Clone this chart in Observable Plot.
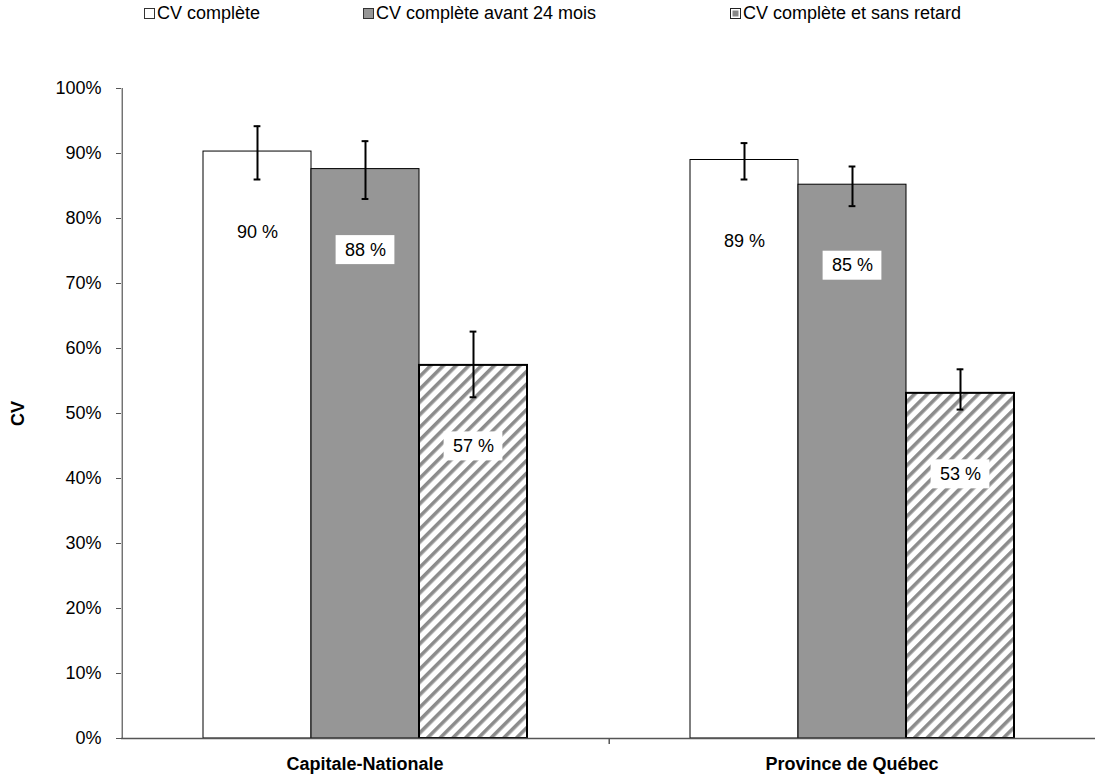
<!DOCTYPE html>
<html>
<head>
<meta charset="utf-8">
<script src="https://cdn.jsdelivr.net/npm/d3@7"></script>
<script src="https://cdn.jsdelivr.net/npm/@observablehq/plot@0.6"></script>
<style>
  html, body { margin: 0; padding: 0; background: white; }
  body { width: 1095px; height: 779px; overflow: hidden; font-family: "Liberation Sans", Arial, Helvetica, sans-serif; }
  #legend { position: relative; height: 30px; font-size: 18px; color: #000; }
  #legend .item { position: absolute; top: 3px; display: flex; align-items: center; white-space: nowrap; }
  #legend .sw { width: 9px; height: 9px; border: 1px solid #333; margin-right: 2px; box-sizing: content-box; }
  #chart svg { display: block; }
</style>
</head>
<body>
<div id="legend"></div>
<div id="chart"></div>
<script>
// ---- data ----
const categories = ["Capitale-Nationale", "Province de Québec"];
const series = ["CV complète", "CV complète avant 24 mois", "CV complète et sans retard"];
const capitaleValues = [0.903, 0.876, 0.574];
const capitaleLow    = [0.860, 0.830, 0.525];
const capitaleHigh   = [0.942, 0.919, 0.626];
const quebecValues   = [0.890, 0.852, 0.531];
const quebecLow      = [0.860, 0.819, 0.506];
const quebecHigh     = [0.916, 0.880, 0.568];
const yTicks = [0, 0.1, 0.2, 0.3, 0.4, 0.5, 0.6, 0.7, 0.8, 0.9, 1.0];
const axisLabel = "CV";

const seriesFill = ["white", "#969696", "url(#hatch)"];
const seriesStrokeWidth = [1, 1, 2];
const legendLeft = [144, 363, 730];

// ---- table ----
const rows = [];
[[capitaleValues, capitaleLow, capitaleHigh], [quebecValues, quebecLow, quebecHigh]].forEach(([v, lo, hi], gi) => {
  series.forEach((s, si) => rows.push({group: categories[gi], series: s, value: v[si], low: lo[si], high: hi[si]}));
});

// ---- legend ----
const legend = document.getElementById("legend");
series.forEach((s, i) => {
  const item = document.createElement("div");
  item.className = "item";
  item.style.left = legendLeft[i] + "px";
  const sw = document.createElement("span");
  sw.className = "sw";
  if (i === 0) sw.style.background = "white";
  if (i === 1) sw.style.background = "#969696";
  if (i === 2) {
    sw.style.background = "#888";
    sw.style.border = "1px solid #222";
    sw.style.boxShadow = "inset 0 0 0 1.5px #fff";
  }
  item.appendChild(sw);
  const t = document.createElement("span");
  t.textContent = s;
  item.appendChild(t);
  legend.appendChild(item);
});

// ---- layout ----
const W = 1095, H = 749, mL = 121, mR = 0, mT = 58, mB = 41;
const padOuter = 0.75;
const step = ((W - mL - mR) / categories.length) / (series.length + 2 * padOuter);
const edgeDx = -(padOuter * step + step / 2);
const capHalf = 3.5;
const capInset = step / 2 - capHalf;
const labelDy = 81;

const fmtLabel = d => Math.round(d.value * 100) + " %";

const chart = Plot.plot({
  width: W, height: H,
  marginLeft: mL, marginRight: mR, marginTop: mT, marginBottom: mB,
  style: {fontFamily: '"Liberation Sans", Arial, Helvetica, sans-serif', fontSize: "18px", color: "black", background: "white", overflow: "visible"},
  fx: {domain: categories, padding: 0, axis: null, label: null},
  x: {domain: series, paddingInner: 0, paddingOuter: padOuter, axis: null, label: null},
  y: {domain: [0, 1], axis: null, label: null},
  marks: [
    ...series.map((s, si) => Plot.barY(rows.filter(d => d.series === s), {
      fx: "group", x: "series", y: "value",
      fill: seriesFill[si], stroke: "black", strokeWidth: seriesStrokeWidth[si]
    })),
    // label boxes
    Plot.barY(rows.filter(d => d.series !== series[0]), {
      fx: "group", x: "series", y1: "value", y2: "value",
      insetLeft: step / 2 - 29.5, insetRight: step / 2 - 29.5, insetTop: -14.5, insetBottom: -14.5,
      dy: labelDy, fill: "white"
    }),
    Plot.text(rows, {
      fx: "group", x: "series", y: "value", text: fmtLabel,
      dy: labelDy, fontSize: 18, fill: "black"
    }),
    // error bars
    Plot.ruleX(rows, {fx: "group", x: "series", y1: "low", y2: "high", stroke: "black", strokeWidth: 2}),
    Plot.tickY(rows, {fx: "group", x: "series", y: "low", stroke: "black", strokeWidth: 2, insetLeft: capInset, insetRight: capInset}),
    Plot.tickY(rows, {fx: "group", x: "series", y: "high", stroke: "black", strokeWidth: 2, insetLeft: capInset, insetRight: capInset}),
    // x axis baseline
    Plot.ruleY([0], {stroke: "#555", strokeWidth: 1.5}),
    // y axis line (left edge of first facet)
    Plot.ruleX([categories[0]], {fx: d => d, x: () => series[0], y1: () => 0, y2: () => 1, dx: edgeDx, stroke: "#555", strokeWidth: 1.2}),
    // boundary tick between categories
    Plot.ruleX([categories[1]], {fx: d => d, x: () => series[0], y1: () => 0, y2: () => 0, insetBottom: -6, dx: edgeDx, stroke: "#555", strokeWidth: 1.5}),
    // y axis ticks and labels
    Plot.axisY(yTicks, {tickFormat: d3.format(".0%"), tickSize: 5, tickPadding: 15, stroke: "#555", fill: "black", fontSize: 18, label: null}),
    // y axis title
    Plot.text([categories[0]], {fx: d => d, text: () => axisLabel, frameAnchor: "left", textAnchor: "middle", lineAnchor: "middle", rotate: -90, dx: -103, fontWeight: "bold", fontSize: 18, fill: "black"}),
    // category labels
    Plot.text(categories, {fx: d => d, text: d => d, frameAnchor: "bottom", textAnchor: "middle", lineAnchor: "middle", dy: 26, fontWeight: "bold", fontSize: 18, fill: "black"})
  ]
});

// hatch pattern
const ns = "http://www.w3.org/2000/svg";
const defs = document.createElementNS(ns, "defs");
const pat = document.createElementNS(ns, "pattern");
pat.setAttribute("id", "hatch");
pat.setAttribute("patternUnits", "userSpaceOnUse");
pat.setAttribute("width", "9");
pat.setAttribute("height", "9");
pat.setAttribute("patternTransform", "rotate(45)");
const bg = document.createElementNS(ns, "rect");
bg.setAttribute("width", "9"); bg.setAttribute("height", "9"); bg.setAttribute("fill", "white");
const stripe = document.createElementNS(ns, "rect");
stripe.setAttribute("width", "3.6"); stripe.setAttribute("height", "9"); stripe.setAttribute("fill", "#8c8c8c");
pat.appendChild(bg); pat.appendChild(stripe);
defs.appendChild(pat);
chart.insertBefore(defs, chart.firstChild);

document.getElementById("chart").appendChild(chart);
</script>
</body>
</html>
